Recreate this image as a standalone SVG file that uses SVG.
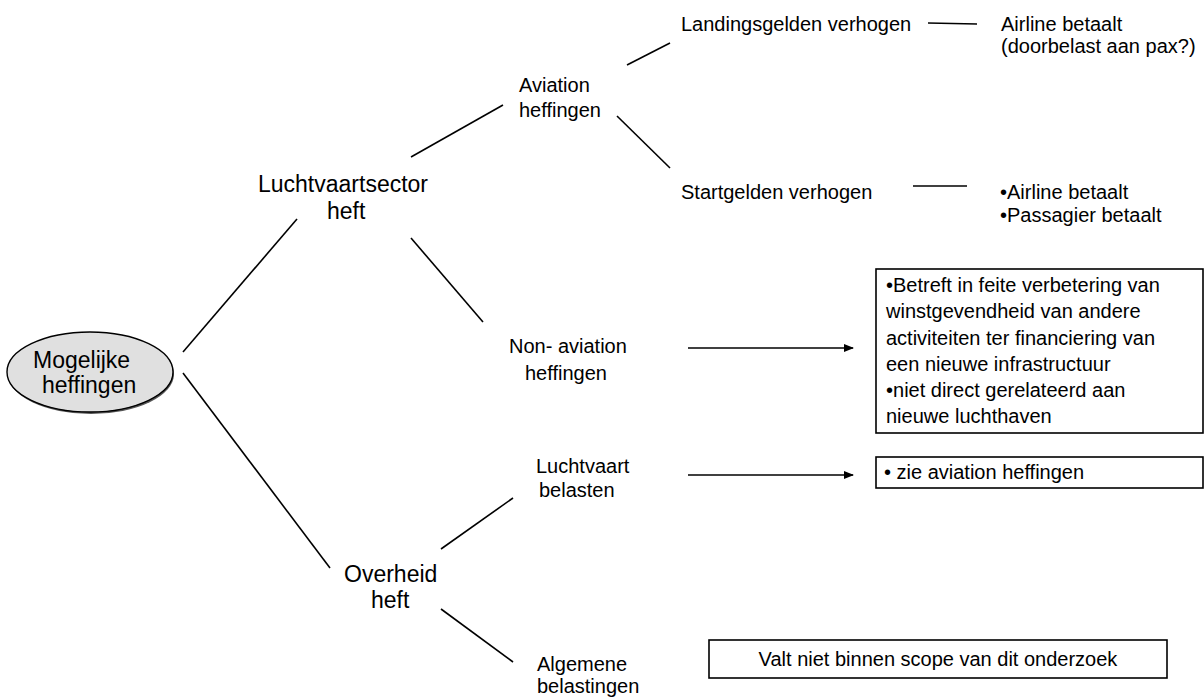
<svg xmlns="http://www.w3.org/2000/svg" width="1204" height="698" viewBox="0 0 1204 698">
<defs>
<marker id="arr" markerWidth="10" markerHeight="8" refX="9" refY="4" orient="auto" markerUnits="userSpaceOnUse">
<path d="M0,0 L10,4 L0,8 Z" fill="#000"/>
</marker>
<style>
text{font-family:"Liberation Sans",Arial,sans-serif;fill:#000}
.big{font-size:23px}
.lbl{font-size:20px}
.ctr{text-anchor:middle}
.conn line{stroke:#000;stroke-width:1.6}
.box{fill:#fff;stroke:#000;stroke-width:1.6}
</style>
</defs>
<rect width="1204" height="698" fill="#fff"/>
<g class="conn" id="connectors">
<line x1="183" y1="352" x2="297" y2="219"/>
<line x1="183" y1="373" x2="330" y2="568"/>
<line x1="411" y1="157" x2="503" y2="105"/>
<line x1="627" y1="65" x2="670" y2="43"/>
<line x1="617" y1="116" x2="670" y2="168"/>
<line x1="928" y1="23" x2="977" y2="24"/>
<line x1="913" y1="186" x2="967" y2="186"/>
<line x1="411" y1="238" x2="483" y2="322"/>
<line x1="441" y1="549" x2="513" y2="498"/>
<line x1="441" y1="609" x2="513" y2="662"/>
<line x1="688" y1="348" x2="853" y2="348" marker-end="url(#arr)"/>
<line x1="688" y1="475" x2="853" y2="475" marker-end="url(#arr)"/>
</g>
<g id="root">
<ellipse cx="91" cy="374" rx="83" ry="40" fill="#555"/>
<ellipse cx="90" cy="372" rx="83" ry="40" fill="#e0e0e0" stroke="#000" stroke-width="1.4"/>
<text class="big" x="33" y="368">Mogelijke</text>
<text class="big" x="42" y="393">heffingen</text>
</g>
<g id="luchtvaartsector">
<text class="big" x="258" y="192">Luchtvaartsector</text>
<text class="big" x="327" y="219">heft</text>
</g>
<g id="aviation">
<text class="lbl" x="519" y="92">Aviation</text>
<text class="lbl" x="519" y="117">heffingen</text>
</g>
<g id="landingsgelden">
<text class="lbl" x="681" y="31">Landingsgelden verhogen</text>
</g>
<g id="landing-result">
<text class="lbl" x="1001" y="31">Airline betaalt</text>
<text class="lbl" x="1001" y="53">(doorbelast aan pax?)</text>
</g>
<g id="startgelden">
<text class="lbl" x="681" y="199">Startgelden verhogen</text>
</g>
<g id="start-result">
<text class="lbl" x="1000" y="199">•Airline betaalt</text>
<text class="lbl" x="1000" y="222">•Passagier betaalt</text>
</g>
<g id="nonaviation">
<text class="lbl" x="509" y="353">Non- aviation</text>
<text class="lbl" x="525" y="380">heffingen</text>
</g>
<g id="nonaviation-box">
<rect class="box" x="876" y="269" width="327" height="164"/>
<text class="lbl" x="886" y="292">•Betreft in feite verbetering van</text>
<text class="lbl" x="886" y="318">winstgevendheid van andere</text>
<text class="lbl" x="886" y="345">activiteiten ter financiering van</text>
<text class="lbl" x="886" y="371">een nieuwe infrastructuur</text>
<text class="lbl" x="886" y="397">•niet direct gerelateerd aan</text>
<text class="lbl" x="886" y="423">nieuwe luchthaven</text>
</g>
<g id="luchtvaart">
<text class="lbl" x="536" y="473">Luchtvaart</text>
<text class="lbl" x="539" y="497">belasten</text>
</g>
<g id="luchtvaart-box">
<rect class="box" x="876" y="457" width="327" height="31"/>
<text class="lbl" x="884" y="479">• zie aviation heffingen</text>
</g>
<g id="overheid">
<text class="big" x="344" y="582">Overheid</text>
<text class="big" x="371" y="608">heft</text>
</g>
<g id="algemene">
<text class="lbl" x="537" y="671">Algemene</text>
<text class="lbl" x="537" y="693">belastingen</text>
</g>
<g id="scope-box">
<rect class="box" x="709" y="640" width="458" height="38"/>
<text class="lbl ctr" x="938" y="666">Valt niet binnen scope van dit onderzoek</text>
</g>
</svg>
